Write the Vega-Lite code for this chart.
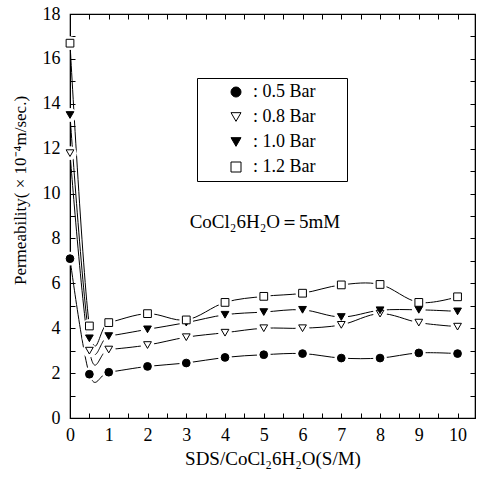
{
  "$schema": "https://vega.github.io/schema/vega-lite/v6.json",
  "width": 405,
  "height": 404,
  "autosize": "none",
  "padding": {"left": 70, "top": 14, "right": 7, "bottom": 59},
  "background": "white",
  "config": {
    "font": "Liberation Serif, Times New Roman, serif",
    "view": {"stroke": "black", "strokeWidth": 1.2},
    "axis": {"grid": false, "domainColor": "black", "tickColor": "black", "labelColor": "black", "titleColor": "black", "labelFont": "Liberation Serif, Times New Roman, serif", "titleFont": "Liberation Serif, Times New Roman, serif", "labelFontSize": 18, "titleFontSize": 16, "titleFontWeight": "normal", "zindex": 1},
    "legend": {"labelFont": "Liberation Serif, Times New Roman, serif"},
    "text": {"font": "Liberation Serif, Times New Roman, serif"}
  },
  "datasets": {
    "perm": [
      {"x": 0, "p": "0.5 Bar", "y": 7.1}, {"x": 0, "p": "0.8 Bar", "y": 11.8}, {"x": 0, "p": "1.0 Bar", "y": 13.5}, {"x": 0, "p": "1.2 Bar", "y": 16.7},
      {"x": 0.5, "p": "0.5 Bar", "y": 1.95}, {"x": 0.5, "p": "0.8 Bar", "y": 3.0}, {"x": 0.5, "p": "1.0 Bar", "y": 3.55}, {"x": 0.5, "p": "1.2 Bar", "y": 4.1},
      {"x": 1, "p": "0.5 Bar", "y": 2.04}, {"x": 1, "p": "0.8 Bar", "y": 3.05}, {"x": 1, "p": "1.0 Bar", "y": 3.65}, {"x": 1, "p": "1.2 Bar", "y": 4.25},
      {"x": 2, "p": "0.5 Bar", "y": 2.3}, {"x": 2, "p": "0.8 Bar", "y": 3.25}, {"x": 2, "p": "1.0 Bar", "y": 3.95}, {"x": 2, "p": "1.2 Bar", "y": 4.65},
      {"x": 3, "p": "0.5 Bar", "y": 2.45}, {"x": 3, "p": "0.8 Bar", "y": 3.6}, {"x": 3, "p": "1.0 Bar", "y": 4.25}, {"x": 3, "p": "1.2 Bar", "y": 4.37},
      {"x": 4, "p": "0.5 Bar", "y": 2.7}, {"x": 4, "p": "0.8 Bar", "y": 3.8}, {"x": 4, "p": "1.0 Bar", "y": 4.6}, {"x": 4, "p": "1.2 Bar", "y": 5.15},
      {"x": 5, "p": "0.5 Bar", "y": 2.82}, {"x": 5, "p": "0.8 Bar", "y": 4.0}, {"x": 5, "p": "1.0 Bar", "y": 4.72}, {"x": 5, "p": "1.2 Bar", "y": 5.42},
      {"x": 6, "p": "0.5 Bar", "y": 2.87}, {"x": 6, "p": "0.8 Bar", "y": 4.0}, {"x": 6, "p": "1.0 Bar", "y": 4.82}, {"x": 6, "p": "1.2 Bar", "y": 5.56},
      {"x": 7, "p": "0.5 Bar", "y": 2.67}, {"x": 7, "p": "0.8 Bar", "y": 4.15}, {"x": 7, "p": "1.0 Bar", "y": 4.5}, {"x": 7, "p": "1.2 Bar", "y": 5.93},
      {"x": 8, "p": "0.5 Bar", "y": 2.67}, {"x": 8, "p": "0.8 Bar", "y": 4.65}, {"x": 8, "p": "1.0 Bar", "y": 4.8}, {"x": 8, "p": "1.2 Bar", "y": 5.95},
      {"x": 9, "p": "0.5 Bar", "y": 2.9}, {"x": 9, "p": "0.8 Bar", "y": 4.25}, {"x": 9, "p": "1.0 Bar", "y": 4.82}, {"x": 9, "p": "1.2 Bar", "y": 5.15},
      {"x": 10, "p": "0.5 Bar", "y": 2.87}, {"x": 10, "p": "0.8 Bar", "y": 4.07}, {"x": 10, "p": "1.0 Bar", "y": 4.75}, {"x": 10, "p": "1.2 Bar", "y": 5.4}
    ],
    "note": [{"note": "CoCl₂6H₂O＝5mM", "nx": 5.03, "ny": 8.75}]
  },
  "layer": [
    {
      "data": {"name": "perm"},
      "encoding": {
        "x": {"field": "x", "type": "quantitative", "scale": {"domain": [0, 10.45], "nice": false, "zero": false},
          "axis": {"title": "SDS/CoCl₂6H₂O(S/M)", "titleFontSize": 19, "values": [0,0.5,1,1.5,2,2.5,3,3.5,4,4.5,5,5.5,6,6.5,7,7.5,8,8.5,9,9.5,10], "labelExpr": "datum.value % 1 == 0 ? format(datum.value, 'd') : ''", "tickSize": -5, "labelPadding": 13, "titlePadding": 5, "labelFlush": false}},
        "y": {"field": "y", "type": "quantitative", "scale": {"domain": [0, 18], "nice": false},
          "axis": {"title": "Permeability( × 10⁻⁴m/sec.)", "titleFontSize": 17, "titleX": -41, "titleY": 176, "values": [0,1,2,3,4,5,6,7,8,9,10,11,12,13,14,15,16,17,18], "labelExpr": "datum.value % 2 == 0 ? format(datum.value, 'd') : ''", "tickSize": -5, "labelPadding": 15, "labelFlush": false}}
      },
      "layer": [
        {"mark": {"type": "line", "interpolate": "cardinal", "color": "black", "strokeWidth": 1}, "encoding": {"detail": {"field": "p"}}},
        {"mark": {"type": "point", "shape": "circle", "filled": true, "color": "white", "opacity": 1, "size": 190}},
        {"mark": {"type": "point", "filled": true, "stroke": "black", "strokeWidth": 1, "opacity": 1, "size": 60},
          "encoding": {
            "shape": {"field": "p", "type": "nominal", "scale": {"domain": ["0.5 Bar", "0.8 Bar", "1.0 Bar", "1.2 Bar"], "range": ["circle", "triangle-down", "triangle-down", "square"]},
              "legend": {"title": "__", "titleOrient": "right", "titleColor": "white", "titleFontSize": 14, "titlePadding": 8, "orient": "none", "legendX": 127, "legendY": 64, "strokeColor": "black", "fillColor": "white", "padding": 5, "labelExpr": "':  ' + datum.label", "labelFont": "Liberation Serif, Times New Roman, serif", "labelFontSize": 18, "labelColor": "black", "labelOffset": 8, "symbolSize": 100, "symbolStrokeWidth": 1, "rowPadding": 7, "symbolOffset": 25}},
            "fill": {"field": "p", "type": "nominal", "scale": {"domain": ["0.5 Bar", "0.8 Bar", "1.0 Bar", "1.2 Bar"], "range": ["black", "white", "black", "white"]},
              "legend": {"title": "__", "titleOrient": "right", "titleColor": "white", "titleFontSize": 14, "titlePadding": 8, "orient": "none", "legendX": 127, "legendY": 64, "strokeColor": "black", "fillColor": "white", "padding": 5, "labelExpr": "':  ' + datum.label", "labelFont": "Liberation Serif, Times New Roman, serif", "labelFontSize": 18, "labelColor": "black", "labelOffset": 8, "symbolSize": 100, "symbolStrokeWidth": 1, "rowPadding": 7, "symbolOffset": 25}}
          }}
      ]
    },
    {"data": {"name": "note"},
      "mark": {"type": "text", "font": "Liberation Serif, Times New Roman, serif", "fontSize": 19, "color": "black"},
      "encoding": {
        "x": {"field": "nx", "type": "quantitative", "axis": null},
        "y": {"field": "ny", "type": "quantitative", "axis": null},
        "text": {"field": "note"}}},
    {"data": {"name": "note"},
      "mark": {"type": "rule", "opacity": 0}, "encoding": {
      "x": {"field": "nx", "type": "quantitative", "axis": {"orient": "top", "title": null, "labels": false, "values": [0,0.5,1,1.5,2,2.5,3,3.5,4,4.5,5,5.5,6,6.5,7,7.5,8,8.5,9,9.5,10], "tickSize": -5}},
      "y": {"field": "ny", "type": "quantitative", "axis": {"orient": "right", "title": null, "labels": false, "values": [0,1,2,3,4,5,6,7,8,9,10,11,12,13,14,15,16,17,18], "tickSize": -5}}}}
  ],
  "resolve": {"axis": {"x": "independent", "y": "independent"}}
}
